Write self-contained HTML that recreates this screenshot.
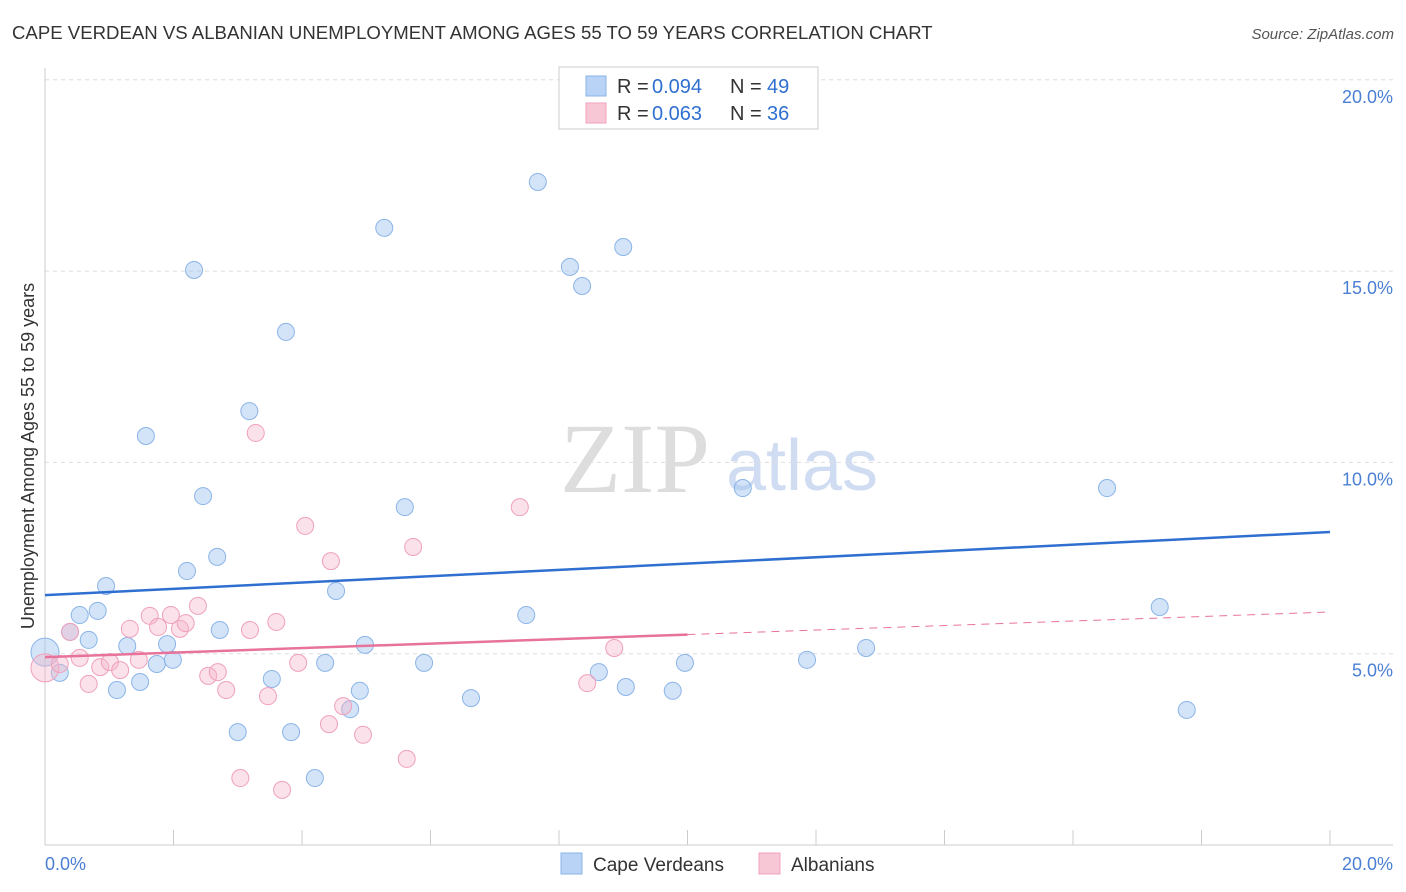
<!DOCTYPE html>
<html><head><meta charset="utf-8"><style>
body{margin:0;background:#fff;font-family:"Liberation Sans",sans-serif;}
svg{display:block}
</style></head><body>
<svg width="1406" height="892" xmlns="http://www.w3.org/2000/svg">
<text x="12" y="39" font-size="18.6" fill="#333">CAPE VERDEAN VS ALBANIAN UNEMPLOYMENT AMONG AGES 55 TO 59 YEARS CORRELATION CHART</text>
<text x="1394" y="39" font-size="15" fill="#555" font-style="italic" text-anchor="end">Source: ZipAtlas.com</text>
<text x="635" y="492" font-size="100" fill="#ddd" font-family="Liberation Serif,serif" text-anchor="middle">ZIP</text>
<text x="802" y="490" font-size="72" fill="#cfdcf2" text-anchor="middle">atlas</text>
<g id="grid"></g>
<line x1="45" y1="68" x2="45" y2="845" stroke="#ccc"/>
<line x1="45" y1="845" x2="1393" y2="845" stroke="#ccc"/>
<g id="ticks"></g>
<text transform="translate(34,456) rotate(-90)" font-size="18" fill="#333" text-anchor="middle">Unemployment Among Ages 55 to 59 years</text>
<text x="45" y="870" font-size="18" fill="#4a7fd4">0.0%</text>
<text x="1393" y="870" font-size="18" fill="#4a7fd4" text-anchor="end">20.0%</text>
<g id="pts"></g>
<g id="trends"></g>
<g>
<rect x="559" y="67" width="259" height="62" fill="#fff" stroke="#ccc"/>
<rect x="586" y="76" width="20" height="20" fill="#b8d3f5" stroke="#8ab4e8"/>
<rect x="586" y="103" width="20" height="20" fill="#f8c7d6" stroke="#f0a0bc"/>
<text x="617" y="93" font-size="20" fill="#333">R =</text>
<text x="652" y="93" font-size="20" fill="#2f6fd0">0.094</text>
<text x="730" y="93" font-size="20" fill="#333">N =</text>
<text x="767" y="93" font-size="20" fill="#2f6fd0">49</text>
<text x="617" y="120" font-size="20" fill="#333">R =</text>
<text x="652" y="120" font-size="20" fill="#2f6fd0">0.063</text>
<text x="730" y="120" font-size="20" fill="#333">N =</text>
<text x="767" y="120" font-size="20" fill="#2f6fd0">36</text>
</g>
<g>
<rect x="561" y="853" width="21" height="21" fill="#b8d3f5" stroke="#8ab4e8"/>
<text x="593" y="871" font-size="19" fill="#333">Cape Verdeans</text>
<rect x="759" y="853" width="21" height="21" fill="#f8c7d6" stroke="#f0a0bc"/>
<text x="791" y="871" font-size="19" fill="#333">Albanians</text>
</g>
</svg>
<script>
const yTicks=[5,10,15,20];
const xTicks=[0,2,4,6,8,10,12,14,16,18,20];
const blueX=[0,0.23,0.39,0.54,0.68,0.82,0.95,1.12,1.28,1.48,1.57,1.74,1.90,1.99,2.21,2.32,2.46,2.68,2.72,3.00,3.18,3.53,3.75,3.83,4.20,4.36,4.53,4.75,4.90,4.98,5.28,5.60,5.90,6.63,7.49,7.67,8.17,8.36,8.62,9.00,9.04,9.77,9.96,10.86,11.86,12.78,16.53,17.35,17.77];
const blueY=[5.04,4.50,5.57,6.01,5.36,6.12,6.77,4.05,5.20,4.26,10.69,4.73,5.25,4.84,7.16,15.03,9.12,7.53,5.62,2.95,11.34,4.34,13.41,2.95,1.75,4.76,6.64,3.55,4.03,5.23,16.13,8.83,4.76,3.84,6.01,17.33,15.11,14.61,4.52,15.63,4.13,4.03,4.76,9.33,4.84,5.15,9.33,6.22,3.53];
const pinkX=[0,0.23,0.39,0.54,0.68,0.86,1.01,1.17,1.32,1.46,1.63,1.76,1.96,2.10,2.19,2.38,2.54,2.69,2.82,3.04,3.19,3.28,3.47,3.60,3.69,3.94,4.05,4.42,4.45,4.64,4.95,5.63,5.73,7.39,8.44,8.86];
const pinkY=[4.63,4.73,5.57,4.89,4.21,4.65,4.78,4.57,5.65,4.84,5.99,5.70,6.01,5.65,5.80,6.25,4.42,4.52,4.05,1.75,5.62,10.77,3.89,5.83,1.44,4.76,8.34,3.16,7.42,3.63,2.88,2.25,7.79,8.83,4.23,5.15];
const blueTrend=[6.53,8.18];
const pinkTrend=[4.91,6.09];
const NS='http://www.w3.org/2000/svg';
const sx=v=>45+v*64.25, sy=v=>845-v*38.26;
function mk(tag,at,parent){const e=document.createElementNS(NS,tag);for(const k in at)e.setAttribute(k,at[k]);document.getElementById(parent).appendChild(e);return e;}
yTicks.forEach(t=>{
 const l=mk('line',{x1:45,x2:1393,y1:sy(t),y2:sy(t),stroke:'#ddd','stroke-dasharray':'4,4'},'grid');
 
 
 const tx=mk('text',{x:1393,y:sy(t)+23,'font-size':18,fill:'#4a7fd4','text-anchor':'end'},'grid');
 tx.textContent=t.toFixed(1)+'%';
 
 
});
xTicks.forEach(t=>{
 const l=mk('line',{x1:sx(t),x2:sx(t),y1:830,y2:845,stroke:'#ccc'},'ticks');
 
 
});
function pts(X,Y,fill,stroke,name){X.forEach((x,i)=>{
 const c=mk('circle',{cx:sx(x),cy:sy(Y[i]),r:i==0?14:8.5,fill:fill,stroke:stroke,'stroke-width':1},'pts');
 
 
});}
pts(blueX,blueY,'rgba(160,196,240,0.45)','#8ab4e8','cape-verdean-point');
pts(pinkX,pinkY,'rgba(245,180,200,0.4)','#f0a0bc','albanian-point');
const bt=mk('line',{x1:sx(0),y1:sy(blueTrend[0]),x2:sx(20),y2:sy(blueTrend[1]),stroke:'#2f6fd0','stroke-width':2.5},'trends');


const pm=pinkTrend[0]+(pinkTrend[1]-pinkTrend[0])*0.5;
const pt=mk('line',{x1:sx(0),y1:sy(pinkTrend[0]),x2:sx(10),y2:sy(pm),stroke:'#e8739a','stroke-width':2.5},'trends');


const pd=mk('line',{x1:sx(10),y1:sy(pm),x2:sx(20),y2:sy(pinkTrend[1]),stroke:'#e8739a','stroke-width':1,'stroke-dasharray':'8,6'},'trends');


</script>
</body></html>
